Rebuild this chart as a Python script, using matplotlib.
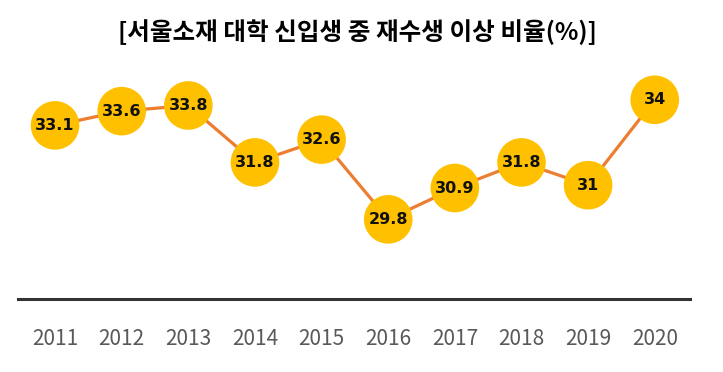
import matplotlib.pyplot as plt

years = [2011, 2012, 2013, 2014, 2015, 2016, 2017, 2018, 2019, 2020]
rates = [33.1, 33.6, 33.8, 31.8, 32.6, 29.8, 30.9, 31.8, 31.0, 34.0]
labels = ['33.1', '33.6', '33.8', '31.8', '32.6', '29.8', '30.9', '31.8', '31', '34']
title = '[서울소재 대학 신입생 중 재수생 이상 비율(%)]'

plt.rcParams['font.family'] = ['Noto Sans CJK KR', 'DejaVu Sans']

fig = plt.figure(figsize=(7.23, 3.72), dpi=100)
ax = fig.add_axes([0.025, 0.196, 0.929, 0.643])

ax.plot(years, rates, color='#ED7D31', lw=2.3, zorder=1)
ax.scatter(years, rates, s=35**2, color='#FFC000', edgecolor='none', zorder=2)
for x, y, t in zip(years, rates, labels):
    ax.text(x, y, t, ha='center', va='center', fontsize=11.5, fontweight='bold',
            family='DejaVu Sans', color='#111111', zorder=3)

ax.set_xlim(2010.445, 2020.525)
ax.set_ylim(27.0, 35.4)
ax.set_xticks(years)
ax.set_xticklabels([str(y) for y in years], fontsize=15, color='#595959')
ax.set_yticks([])
for s in ['top', 'left', 'right']:
    ax.spines[s].set_visible(False)
ax.spines['bottom'].set_color('#333333')
ax.spines['bottom'].set_linewidth(2.2)
ax.tick_params(axis='x', length=0, pad=21)

fig.text(0.494, 0.914, title, ha='center', va='center', fontsize=17.7,
         fontweight='bold', color='black')

fig.savefig('out.png', dpi=100)
